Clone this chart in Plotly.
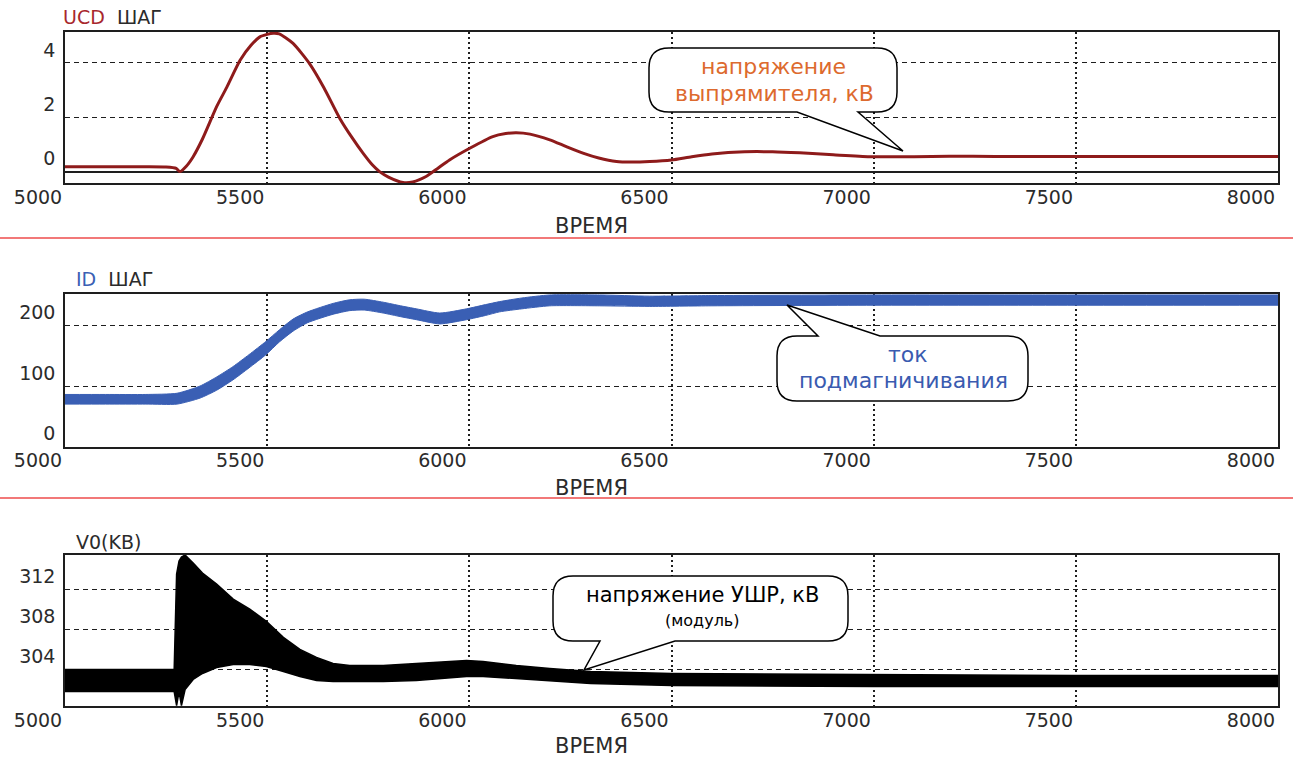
import plotly.graph_objects as go

# ---------------- data ----------------
x_ticks = [5000, 5500, 6000, 6500, 7000, 7500, 8000]

t_ucd = [5000, 5050, 5100, 5150, 5200, 5250, 5275, 5284, 5300, 5317, 5340, 5375, 5400,
         5433, 5460, 5482, 5500, 5515, 5530, 5564, 5606, 5640, 5680, 5710, 5737, 5760,
         5778, 5800, 5836, 5860, 5893, 5920, 5951, 6001, 6058, 6090, 6116, 6150, 6199,
         6240, 6281, 6320, 6364, 6400, 6446, 6500, 6550, 6600, 6681, 6750, 6817, 6900,
         6990, 7100, 7187, 7300, 7500, 7750, 8000]
ucd = [0.18, 0.18, 0.18, 0.18, 0.18, 0.17, 0.12, 0.0, 0.2, 0.55, 1.2, 2.39, 3.1,
       4.1, 4.65, 4.96, 5.05, 5.09, 5.07, 4.72, 3.95, 3.1, 1.95, 1.25, 0.68, 0.25,
       0.0, -0.2, -0.4, -0.38, -0.18, 0.1, 0.43, 0.86, 1.29, 1.4, 1.43, 1.38, 1.17,
       0.92, 0.68, 0.5, 0.37, 0.35, 0.37, 0.43, 0.55, 0.65, 0.73, 0.73, 0.69, 0.62,
       0.55, 0.55, 0.57, 0.56, 0.56, 0.56, 0.56]

t_id = [5000, 5100, 5200, 5277, 5334, 5375, 5415, 5455, 5497, 5530, 5564, 5600, 5663,
        5704, 5740, 5787, 5830, 5869, 5927, 5993, 6040, 6075, 6130, 6199, 6322, 6446,
        6600, 7000, 7500, 8000]
id_upper = [86, 86, 86, 88, 100, 115, 132, 152, 174, 193, 211, 223, 237,
            243, 244, 239, 233, 228, 221, 228, 235, 240, 246, 251, 251, 249,
            250, 251, 251, 251]
id_lower = [70, 70, 70, 70, 80, 93, 110, 130, 152, 173, 191, 205, 219,
            225, 226, 221, 215, 210, 203, 210, 217, 223, 228, 233, 233, 232,
            233, 234, 234, 234]

t_v0 = [5000, 5100, 5200, 5270, 5276, 5282, 5288, 5297, 5317, 5340, 5375, 5416, 5457,
        5498, 5540, 5581, 5622, 5663, 5704, 5787, 5869, 5951, 5993, 6034, 6116, 6199,
        6300, 6500, 7000, 7500, 8000]
v0_upper = [304.0, 304.0, 304.0, 304.0, 313.5, 314.8, 315.2, 315.4, 314.6, 313.6, 312.5,
            311.0, 310.0, 308.8, 307.2, 306.0, 305.2, 304.6, 304.4, 304.4, 304.6, 304.8,
            304.9, 304.8, 304.4, 304.1, 303.8, 303.6, 303.5, 303.4, 303.4]
v0_lower = [301.8, 301.8, 301.8, 301.8, 300.4, 301.8, 300.4, 302.0, 303.0, 303.6, 304.2,
            304.5, 304.5, 304.3, 303.8, 303.3, 302.9, 302.8, 302.8, 302.8, 302.9, 303.2,
            303.3, 303.3, 303.1, 302.9, 302.6, 302.4, 302.3, 302.3, 302.3]

# ---------------- helpers ----------------
W, H = 1293, 760


def fx(x):
    return x / W


def fy(y):
    return 1 - y / H


RED = "#8e1b1b"
BLUE = "#3a5fb4"
INK = "#1e1e1e"
TICKFONT = dict(family="DejaVu Sans", size=19, color="#2b2b2b")

fig = go.Figure()

fig.add_trace(go.Scatter(x=t_ucd, y=ucd, mode="lines", xaxis="x", yaxis="y",
                         line=dict(color=RED, width=3, shape="spline", smoothing=0.6),
                         hoverinfo="skip", showlegend=False))

fig.add_trace(go.Scatter(x=t_id, y=id_upper, mode="lines", xaxis="x2", yaxis="y2",
                         line=dict(color=BLUE, width=1, shape="spline", smoothing=0.6),
                         hoverinfo="skip", showlegend=False))
fig.add_trace(go.Scatter(x=t_id, y=id_lower, mode="lines", xaxis="x2", yaxis="y2",
                         fill="tonexty", fillcolor=BLUE,
                         line=dict(color=BLUE, width=1, shape="spline", smoothing=0.6),
                         hoverinfo="skip", showlegend=False))

fig.add_trace(go.Scatter(x=t_v0, y=v0_upper, mode="lines", xaxis="x3", yaxis="y3",
                         line=dict(color="black", width=1.5),
                         hoverinfo="skip", showlegend=False))
fig.add_trace(go.Scatter(x=t_v0, y=v0_lower, mode="lines", xaxis="x3", yaxis="y3",
                         fill="tonexty", fillcolor="black",
                         line=dict(color="black", width=1.5),
                         hoverinfo="skip", showlegend=False))


def xax(anchor):
    return dict(domain=[fx(65), fx(1278)], anchor=anchor, range=[5000, 8000],
                tickmode="array", tickvals=x_ticks, ticktext=[str(v) for v in x_ticks],
                showgrid=True, gridcolor=INK, gridwidth=1.8, griddash="2px,3px",
                showline=True, mirror=True, linecolor=INK, linewidth=1.5,
                zeroline=False, ticks="", tickfont=TICKFONT,
                ticklabelshift=-27, ticklabelstandoff=-4, automargin=False,
                fixedrange=True)


def yax(anchor, dom, rng, vals, zero=False):
    return dict(domain=dom, anchor=anchor, range=rng,
                tickmode="array", tickvals=vals, ticktext=[str(v) for v in vals],
                showgrid=True, gridcolor=INK, gridwidth=1.4, griddash="5px,4px",
                showline=True, mirror=True, linecolor=INK, linewidth=1.5,
                zeroline=zero, zerolinecolor=INK, zerolinewidth=1.5,
                ticks="", tickfont=TICKFONT,
                ticklabelshift=-13, ticklabelstandoff=4, automargin=False,
                fixedrange=True)


fig.update_layout(
    width=W, height=H,
    margin=dict(l=0, r=0, t=0, b=0),
    paper_bgcolor="white", plot_bgcolor="white",
    template="none",
    showlegend=False,
    xaxis=xax("y"),
    yaxis=yax("x", [fy(183.3), fy(31.7)], [-0.43, 5.15], [0, 2, 4], zero=True),
    xaxis2=xax("y2"),
    yaxis2=yax("x2", [fy(446.5), fy(294)], [-0.3, 252.6], [0, 100, 200]),
    xaxis3=xax("y3"),
    yaxis3=yax("x3", [fy(706), fy(555)], [300.36, 315.4], [304, 308, 312]),
)

shapes = []
# red separators
for yy in (238, 498):
    shapes.append(dict(type="line", xref="paper", yref="paper", x0=0, x1=1,
                       y0=fy(yy), y1=fy(yy), line=dict(color="#ee4b4b", width=1.5)))


def P(x, y):
    return f"{fx(x):.5f},{fy(y):.5f}"


def bubble(x0, y0, x1, y1, r, ba, bb, tip, side):
    d = f"M{P(x0 + r, y0)}"
    if side == "top":
        d += f" L{P(ba, y0)} L{P(*tip)} L{P(bb, y0)}"
    d += f" L{P(x1 - r, y0)} Q{P(x1, y0)} {P(x1, y0 + r)}"
    d += f" L{P(x1, y1 - r)} Q{P(x1, y1)} {P(x1 - r, y1)}"
    if side == "bottom":
        d += f" L{P(bb, y1)} L{P(*tip)} L{P(ba, y1)}"
    d += f" L{P(x0 + r, y1)} Q{P(x0, y1)} {P(x0, y1 - r)}"
    d += f" L{P(x0, y0 + r)} Q{P(x0, y0)} {P(x0 + r, y0)} Z"
    return dict(type="path", xref="paper", yref="paper", path=d,
                fillcolor="white", line=dict(color="black", width=1.5), layer="above")


shapes.append(bubble(649, 48, 897, 112, 20, 797, 858, (903, 151), "bottom"))
shapes.append(bubble(777, 336, 1028, 401, 20, 818, 880, (787, 305), "top"))
shapes.append(bubble(553, 576, 848, 641, 20, 600, 675, (584, 670), "bottom"))
fig.update_layout(shapes=shapes)

ann = []


def text(x, y, s, size, color, xanchor="center", family="DejaVu Sans"):
    ann.append(dict(xref="paper", yref="paper", x=fx(x), y=fy(y), text=s,
                    showarrow=False, xanchor=xanchor, yanchor="middle",
                    font=dict(family=family, size=size, color=color)))


# panel titles
text(61, 17, "<span style='color:#a8282d'>UCD</span>  ШАГ", 19, "#2b2b2b", xanchor="left")
text(74, 279, "<span style='color:#3a5fb4'>ID</span>  ШАГ", 19, "#2b2b2b", xanchor="left")
text(74, 542, "V0(KB)", 19, "#2b2b2b", xanchor="left")

# axis titles
for yy in (226, 488, 746):
    text(591, yy, "ВРЕМЯ", 21, "#2b2b2b")

# bubble texts
text(773, 66, "напряжение", 22, "#dd6a2e")
text(774, 93, "выпрямителя, кВ", 22, "#dd6a2e")
text(908, 354, "ток", 22, "#3a5bb0")
text(903, 381, "подмагничивания", 22, "#3a5bb0")
text(703, 595, "напряжение УШР, кВ", 21, "black")
text(702, 620, "(модуль)", 16, "black")

fig.update_layout(annotations=ann)

fig.write_html("out.html")
